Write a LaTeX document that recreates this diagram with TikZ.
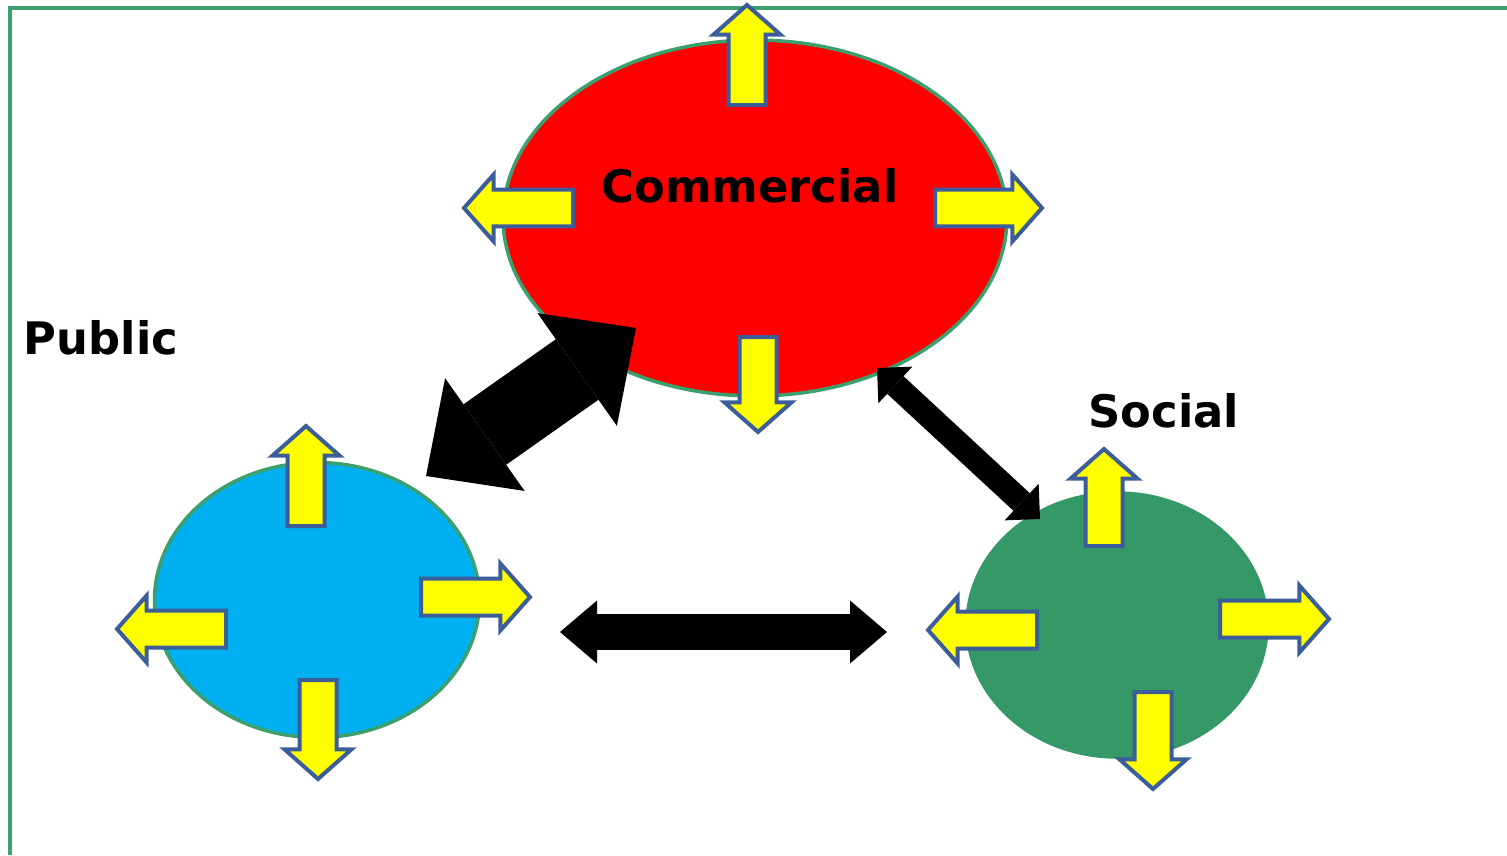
\documentclass[tikz,border=0pt]{standalone}
\usepackage{fontspec}
\setsansfont{DejaVu Sans}
\usepackage{tikz}
\usepackage{xcolor}
\usetikzlibrary{shapes.geometric,shapes.arrows,arrows.meta}
\definecolor{comred}{RGB}{255,0,0}
\definecolor{pubblue}{RGB}{0,176,240}
\definecolor{socgreen}{RGB}{52,153,102}
\definecolor{rimgreen}{RGB}{60,160,110}
\definecolor{arrowrim}{RGB}{59,93,154}
\definecolor{arrowfill}{RGB}{255,255,0}

\begin{document}
\begin{tikzpicture}[x=0.02cm, y=0.02cm,
	link/.style n args={3}{black, line width=#1,
		arrows={Triangle[width=#2,length=#3,line width=0pt]-Triangle[width=#2,length=#3,line width=0pt]}}]
			\tikzstyle{every node}+=[inner sep=0pt]
			\tikzstyle{blob}=[ellipse, draw=rimgreen, line width=0.07cm]
			\tikzstyle{yarrow}=[single arrow, draw=arrowrim, fill=arrowfill, line width=0.08cm, inner xsep=0pt, inner ysep=0.33cm, single arrow head extend=0.3cm, single arrow tip angle=97, anchor=tail]
			\tikzstyle{lbl}=[font=\sffamily\bfseries\fontsize{25.5}{30}\selectfont, anchor=base]
			\useasboundingbox (0,0) rectangle (1507,-855);
			\draw [rimgreen, line width=0.08cm] (10,-855) -- (10,-8) -- (1507,-8);
			\node [blob, fill=comred, minimum width=10.08cm, minimum height=7.12cm] (com) at (755,-218) {};
			\node [blob, fill=pubblue, minimum width=6.5cm, minimum height=5.5cm] (pub) at (317,-600) {};
			\node [blob, draw=socgreen, fill=socgreen, minimum width=6cm, minimum height=5.28cm] (soc) at (1117,-625) {};
			\node [yarrow, rotate=90, minimum height=2cm] (comN) at (747,-107) {};
			\node [yarrow, rotate=180, minimum height=2.18cm] (comW) at (575,-208) {};
			\node [yarrow, minimum height=2.14cm] (comE) at (933,-208) {};
			\node [yarrow, rotate=270, minimum height=1.9cm] (comS) at (758,-335) {};
			\node [yarrow, rotate=90, minimum height=2cm] (pubN) at (306,-528) {};
			\node [yarrow, rotate=180, minimum height=2.18cm] (pubW) at (228,-629) {};
			\node [yarrow, minimum height=2.18cm] (pubE) at (419,-597) {};
			\node [yarrow, rotate=270, minimum height=1.98cm] (pubS) at (318,-678) {};
			\node [yarrow, rotate=90, minimum height=1.94cm] (socN) at (1104,-548) {};
			\node [yarrow, rotate=180, minimum height=2.18cm] (socW) at (1039,-630) {};
			\node [yarrow, minimum height=2.18cm] (socE) at (1218,-619) {};
			\node [yarrow, rotate=270, minimum height=1.94cm] (socS) at (1153,-690) {};
			\coordinate (pubtip) at (426,-476);
			\coordinate (comtipl) at (636,-328);
			\coordinate (comtipr) at (877,-368);
			\coordinate (soctip) at (1040,-519);
			\coordinate (pubtipr) at (560,-632);
			\coordinate (soctipl) at (887,-632);
			\draw [link={1.48cm}{2.76cm}{1.44cm}] (pubtip) -- (comtipl);
			\draw [link={0.48cm}{1cm}{0.5cm}] (comtipr) -- (soctip);
			\draw [link={0.72cm}{1.26cm}{0.74cm}] (pubtipr) -- (soctipl);
			\node [lbl] (comlbl) at (750,-202) {Commercial};
			\node [lbl] (publbl) at (101,-354) {Public};
			\node [lbl] (soclbl) at (1164,-427) {Social};
		\end{tikzpicture}
\end{document}
